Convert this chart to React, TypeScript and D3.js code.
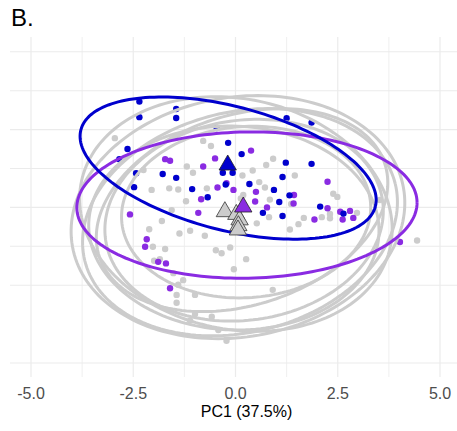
import React from "react";
import * as d3 from "d3";

const W = 457;
const H = 431;

// PC scores (PC1, PC2)
const grayPoints: [number, number][] = [
  [-2.95, 0.78], [-0.79, 0.71], [-0.6, 0.58], [-1.19, 0.05], [-1.04, -0.11],
  [-2.05, -0.55], [-1.62, -0.51], [-1.4, -0.54], [-1.21, -0.84], [-2.25, -0.04],
  [-0.7, -0.51], [-1.56, -1.07], [0.92, 0.25], [0.75, 0.09], [0.42, -0.05],
  [0.17, -0.18], [1.45, -0.18], [0.58, -0.35], [0.72, -0.49], [0.19, -0.68],
  [0.84, -0.8], [1.36, -0.91], [0.82, -1.25], [0.52, -1.41], [1.54, -1.43],
  [1.67, -1.27], [2.39, -0.65], [2.49, -0.73], [2.11, -1.25], [2.31, -1.17],
  [3.53, -0.81], [4.44, -1.85], [1.33, -1.57], [-0.34, -2.18], [-0.13, -2.03],
  [0.26, -2.33], [-0.04, -2.59], [0.91, -3.12], [-0.22, -4.43], [-0.42, -4.15],
  [-2.11, -1.56], [-1.8, -1.35], [-1.37, -1.67], [-1.11, -1.6], [-0.75, -1.73],
  [-2.02, -2.01], [-1.72, -2.07], [-1.99, -2.37], [-1.85, -2.33], [-1.52, -2.69],
  [-1.28, -2.87], [-1.4, -2.99], [-1.44, -3.25], [-1.44, -3.45], [-0.99, -3.25],
  [-0.99, -3.74], [-0.58, -3.81], [-1.11, -3.91], [-0.48, -2.1], [0.13, -0.77],
  [2.97, -1.14], [2.31, -1.28],
];

const purplePoints: [number, number][] = [
  [-1.72, 0.24], [-1.6, 0.2], [-0.5, 0.26], [-0.79, 0.05], [-0.44, -0.49],
  [-0.22, -0.38], [-0.05, -0.55], [-0.84, -0.79], [-0.91, -1.14], [-2.58, -1.18],
  [0.38, 0.46], [0.5, -0.6], [0.48, -0.85], [0.77, -1.0], [1.43, -0.68],
  [1.42, -0.9], [2.25, -0.34], [2.25, -1.02], [2.56, -1.11], [2.8, -1.09],
  [2.88, -1.27], [1.93, -1.31], [2.62, -1.31], [4.02, -1.89], [-2.17, -1.82],
  [-2.21, -2.01], [-1.89, -2.4], [-1.7, -2.44], [-1.6, -3.08],
];

const bluePoints: [number, number][] = [
  [-2.35, 1.72], [-1.45, 1.53], [-1.45, 1.3], [-2.35, 1.32], [-0.46, 1.04],
  [-0.18, 0.66], [-2.64, 0.5], [-2.84, 0.24], [-2.43, -0.12], [-1.78, -0.14],
  [-1.45, -0.24], [-2.48, -0.48], [-1.06, -0.53], [-0.24, -0.41], [-0.31, -0.11],
  [-0.07, -0.11], [-0.68, -0.74], [1.25, 1.29], [1.86, 1.18], [0.15, 0.37],
  [1.23, 0.15], [1.86, 0.12], [1.15, -0.22], [0.94, -0.55], [0.34, -0.4],
  [1.32, -0.69], [1.07, -0.86], [0.67, -1.14], [1.15, -1.22], [2.07, -0.98],
  [2.64, -1.16],
];

// group centroids
const grayCentroids: [number, number][] = [
  [-0.26, -1.11], [0.02, -1.18], [0.1, -1.32], [0.07, -1.47], [0.06, -1.58],
];
const purpleCentroid: [number, number] = [0.19, -0.99];
const blueCentroid: [number, number] = [-0.19, 0.09];

// confidence ellipses: centre, semi-axes, tilt (deg, clockwise on screen)
const grayEllipses = [
  { cx: 0.06, cy: -1.25, rx: 4.11, ry: 3.08, angle: -10 },
  { cx: 0.11, cy: -1.38, rx: 3.91, ry: 2.83, angle: -14 },
  { cx: 0.01, cy: -1.17, rx: 3.86, ry: 2.96, angle: 12 },
  { cx: 0.21, cy: -1.33, rx: 3.42, ry: 2.57, angle: -8 },
  { cx: 0.26, cy: -1.12, rx: 3.05, ry: 2.2, angle: -4 },
  { cx: -0.04, cy: -1.53, rx: 3.55, ry: 2.62, angle: 2 },
  { cx: 0.16, cy: -1.07, rx: 3.67, ry: 2.44, angle: -18 },
];
const purpleEllipse = { cx: 0.28, cy: -0.94, rx: 4.16, ry: 1.88, angle: -1 };
const blueEllipse = { cx: -0.18, cy: 0.01, rx: 3.72, ry: 1.59, angle: 14.6 };

const xTicks = [-5, -2.5, 0, 2.5, 5];
const xMinor = [-3.75, -1.25, 1.25, 3.75];
const yGrid = [3, 2, 1, 0, -1, -2, -3, -5];

const GRAY = "#CCCCCC";
const BLUE = "#0000CD";
const PURPLE = "#8A2BE2";

const panel = { left: 10, right: 457, top: 37, bottom: 377 };

const x = d3.scaleLinear().domain([-5, 5]).range([31, 440]);
const y = d3.scaleLinear().domain([3, -5]).range([51.8, 363]);

type Ell = { cx: number; cy: number; rx: number; ry: number; angle: number };

const ellipsePath = (e: Ell) => {
  const X = x(e.cx);
  const Y = y(e.cy);
  const a = x(e.rx) - x(0);
  const b = y(0) - y(e.ry);
  const th = (e.angle * Math.PI) / 180;
  const pts: [number, number][] = d3.range(0, 2 * Math.PI + 0.001, Math.PI / 90).map((t) => [
    X + a * Math.cos(t) * Math.cos(th) - b * Math.sin(t) * Math.sin(th),
    Y + a * Math.cos(t) * Math.sin(th) + b * Math.sin(t) * Math.cos(th),
  ]);
  return d3.line()(pts) as string;
};

const tri = d3.symbol().type(d3.symbolTriangle).size(130)() as string;

export default function App() {
  return (
    <svg
      width={W}
      height={H}
      style={{ position: "absolute", left: 0, top: 0, background: "#fff" }}
      fontFamily="'Liberation Sans', Arial, sans-serif"
    >
      {/* grid */}
      {yGrid.map((v) => (
        <line key={"h" + v} x1={panel.left} x2={panel.right} y1={y(v)} y2={y(v)} stroke="#EBEBEB" strokeWidth={1.1} />
      ))}
      {xMinor.map((v) => (
        <line key={"m" + v} x1={x(v)} x2={x(v)} y1={panel.top} y2={panel.bottom} stroke="#EBEBEB" strokeWidth={0.8} />
      ))}
      {xTicks.map((v) => (
        <line key={"v" + v} x1={x(v)} x2={x(v)} y1={panel.top} y2={panel.bottom} stroke="#EBEBEB" strokeWidth={1.2} />
      ))}

      {/* points */}
      {grayPoints.map((d, i) => (
        <circle key={"g" + i} cx={x(d[0])} cy={y(d[1])} r={3.2} fill={GRAY} />
      ))}
      {purplePoints.map((d, i) => (
        <circle key={"p" + i} cx={x(d[0])} cy={y(d[1])} r={3.2} fill={PURPLE} />
      ))}
      {bluePoints.map((d, i) => (
        <circle key={"b" + i} cx={x(d[0])} cy={y(d[1])} r={3.2} fill={BLUE} />
      ))}

      {/* ellipses */}
      {grayEllipses.map((e, i) => (
        <path key={"ge" + i} d={ellipsePath(e)} fill="none" stroke={GRAY} strokeWidth={3} />
      ))}
      <path d={ellipsePath(purpleEllipse)} fill="none" stroke={PURPLE} strokeWidth={3} />
      <path d={ellipsePath(blueEllipse)} fill="none" stroke={BLUE} strokeWidth={3} />

      {/* centroids */}
      {grayCentroids.map((d, i) => (
        <path key={"gc" + i} d={tri} transform={`translate(${x(d[0])},${y(d[1])})`} fill={GRAY} stroke="#333" strokeWidth={0.8} />
      ))}
      <path d={tri} transform={`translate(${x(purpleCentroid[0])},${y(purpleCentroid[1])})`} fill={PURPLE} stroke="#222" strokeWidth={0.8} />
      <path d={tri} transform={`translate(${x(blueCentroid[0])},${y(blueCentroid[1])})`} fill={BLUE} stroke="#222" strokeWidth={0.8} />

      {/* x axis */}
      {xTicks.map((v) => (
        <text key={"t" + v} x={x(v)} y={398.5} textAnchor="middle" fontSize={16} fill="#4D4D4D">
          {v.toFixed(1)}
        </text>
      ))}
      <text x={246.5} y={417} textAnchor="middle" fontSize={16} fill="#000">
        PC1 (37.5%)
      </text>

      <text x={11} y={26} fontSize={24} fill="#000">
        B.
      </text>
    </svg>
  );
}
